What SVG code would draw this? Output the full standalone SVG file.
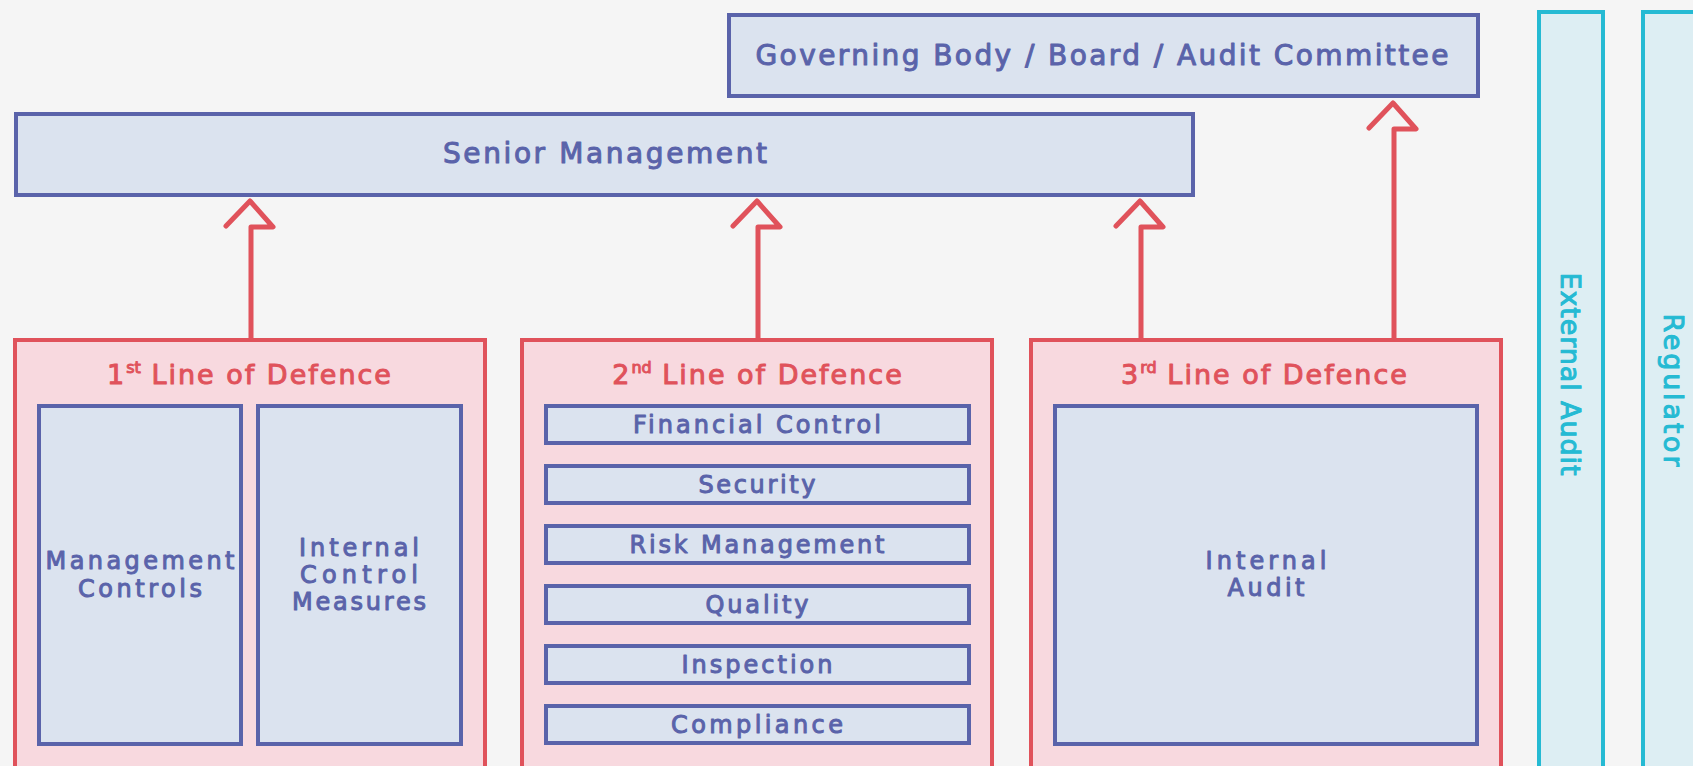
<svg xmlns="http://www.w3.org/2000/svg" width="1693" height="766" viewBox="0 0 1693 766">
  <defs>
    <style>
      .bg { fill: #f5f5f5; }
      .blue { fill: #dbe3ef; stroke: #5a63aa; stroke-width: 4; }
      .red { fill: #f8d9df; stroke: #e0525b; stroke-width: 4; }
      .cyan { fill: #ddeef3; stroke: #25bad3; stroke-width: 4; }
      .t { font-family: "DejaVu Sans", "Open Sans", sans-serif; font-weight: normal; text-anchor: middle; stroke-width: 1px; stroke-linejoin: round; }
      .tb { fill: #5a63aa; stroke: #5a63aa; font-size: 28px; }
      .tr { fill: #e0525b; stroke: #e0525b; font-size: 27px; letter-spacing: 2px; }
      .tc { fill: #25bad3; stroke: #25bad3; font-size: 27px; }
      .ti { fill: #5a63aa; stroke: #5a63aa; font-size: 24px; }
      .sup { font-size: 16px; letter-spacing: 0; }
      .arrow { fill: none; stroke: #e0525b; stroke-width: 5; stroke-linecap: round; stroke-linejoin: round; }
    </style>
  </defs>

  <rect class="bg" x="0" y="0" width="1693" height="766"/>

  <!-- Oversight bodies -->
  <g id="governing-body">
    <rect class="blue" x="729" y="15" width="749" height="81"/>
    <text class="t tb" x="1102" y="65" textLength="693" lengthAdjust="spacing">Governing Body / Board / Audit Committee</text>
  </g>

  <g id="senior-management">
    <rect class="blue" x="16" y="114" width="1177" height="81"/>
    <text class="t tb" x="605" y="163" textLength="324" lengthAdjust="spacing">Senior Management</text>
  </g>

  <!-- First line -->
  <g id="first-line">
    <rect class="red" x="15" y="340" width="470" height="440"/>
    <text class="t tr" x="250" y="384">1<tspan class="sup" dy="-11">st</tspan><tspan dy="11"> Line of Defence</tspan></text>
  </g>
  <g id="management-controls">
    <rect class="blue" x="39" y="406" width="202" height="338"/>
    <text class="t ti" x="140" y="569" textLength="189" lengthAdjust="spacing">Management</text>
    <text class="t ti" x="140" y="597" textLength="124" lengthAdjust="spacing">Controls</text>
  </g>
  <g id="internal-control-measures">
    <rect class="blue" x="258" y="406" width="203" height="338"/>
    <text class="t ti" x="359" y="556" textLength="120" lengthAdjust="spacing">Internal</text>
    <text class="t ti" x="359" y="583" textLength="118" lengthAdjust="spacing">Control</text>
    <text class="t ti" x="359" y="610" textLength="134" lengthAdjust="spacing">Measures</text>
  </g>

  <!-- Second line -->
  <g id="second-line">
    <rect class="red" x="522" y="340" width="470" height="440"/>
    <text class="t tr" x="758" y="384">2<tspan class="sup" dy="-11">nd</tspan><tspan dy="11"> Line of Defence</tspan></text>
  </g>
  <g id="financial-control">
    <rect class="blue" x="546" y="406" width="423" height="37"/>
    <text class="t ti" x="757" y="433" textLength="248" lengthAdjust="spacing">Financial Control</text>
  </g>
  <g id="security">
    <rect class="blue" x="546" y="466" width="423" height="37"/>
    <text class="t ti" x="757" y="493" textLength="117" lengthAdjust="spacing">Security</text>
  </g>
  <g id="risk-management">
    <rect class="blue" x="546" y="526" width="423" height="37"/>
    <text class="t ti" x="757" y="553" textLength="255" lengthAdjust="spacing">Risk Management</text>
  </g>
  <g id="quality">
    <rect class="blue" x="546" y="586" width="423" height="37"/>
    <text class="t ti" x="757" y="613" textLength="103" lengthAdjust="spacing">Quality</text>
  </g>
  <g id="inspection">
    <rect class="blue" x="546" y="646" width="423" height="37"/>
    <text class="t ti" x="757" y="673" textLength="151" lengthAdjust="spacing">Inspection</text>
  </g>
  <g id="compliance">
    <rect class="blue" x="546" y="706" width="423" height="37"/>
    <text class="t ti" x="757" y="733" textLength="172" lengthAdjust="spacing">Compliance</text>
  </g>

  <!-- Third line -->
  <g id="third-line">
    <rect class="red" x="1031" y="340" width="470" height="440"/>
    <text class="t tr" x="1265" y="384">3<tspan class="sup" dy="-11">rd</tspan><tspan dy="11"> Line of Defence</tspan></text>
  </g>
  <g id="internal-audit">
    <rect class="blue" x="1055" y="406" width="422" height="338"/>
    <text class="t ti" x="1266" y="569" textLength="121" lengthAdjust="spacing">Internal</text>
    <text class="t ti" x="1266" y="596" textLength="77" lengthAdjust="spacing">Audit</text>
  </g>

  <!-- External parties -->
  <g id="external-audit">
    <rect class="cyan" x="1539" y="12" width="64" height="770"/>
    <text class="t tc" transform="translate(1561 374) rotate(90)" x="0" y="0" textLength="203" lengthAdjust="spacing">External Audit</text>
  </g>
  <g id="regulator">
    <rect class="cyan" x="1643" y="12" width="64" height="770"/>
    <text class="t tc" transform="translate(1664 390) rotate(90)" x="0" y="0" textLength="153" lengthAdjust="spacing">Regulator</text>
  </g>

  <!-- Reporting lines -->
  <g id="connectors">
    <path class="arrow" d="M226 226 L250 201 L273 227 L251 227 L251 338"/>
    <path class="arrow" d="M733 226 L757 201 L780 227 L758 227 L758 338"/>
    <path class="arrow" d="M1116 226 L1140 201 L1163 227 L1141 227 L1141 338"/>
    <path class="arrow" d="M1369 128 L1393 103 L1416 129 L1394 129 L1394 338"/>
  </g>
</svg>
